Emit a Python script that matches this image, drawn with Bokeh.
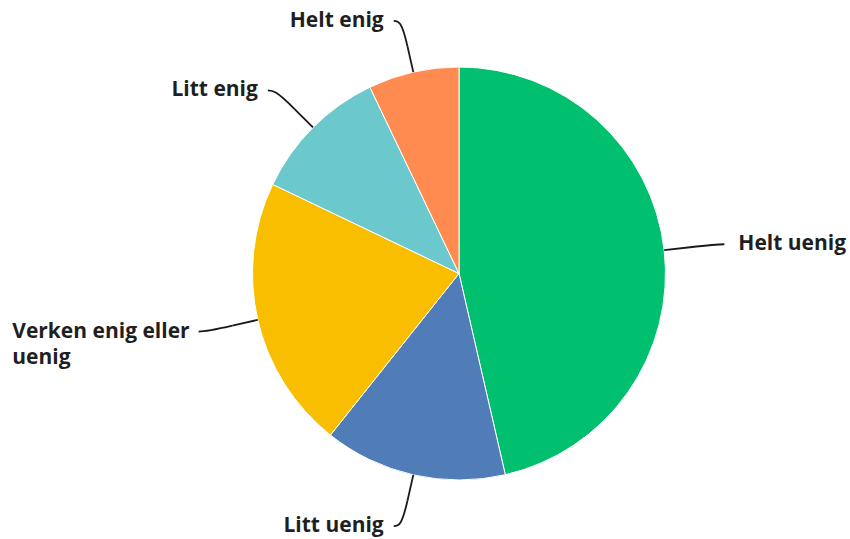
import numpy as np
from bokeh.plotting import figure
from bokeh.models import Range1d, ColumnDataSource
from bokeh.embed import file_html
from bokeh.resources import INLINE
from bokeh.core.properties import value

# ---- data ----
categories = ["Helt uenig", "Litt uenig", "Verken enig eller\nuenig", "Litt enig", "Helt enig"]
shares = [46.4, 14.3, 21.4, 10.8, 7.1]
colors = ["#00bf6f", "#507cb7", "#f9be00", "#6bc8cd", "#ff8b50"]

# ---- layout ----
W, H = 850, 539
CX, CY = 458.5, 266.0   # pie centre (px, y up)
R = 206.5               # pie radius
R_BREAK = R + 26        # where the connector curve meets the straight part
R_LABEL = 259           # label anchor distance
FONT_PX = 21
CHAR_EM = 0.494         # rough average glyph width, used to left-align wrapped labels

p = figure(width=W, height=H, x_range=Range1d(0, W), y_range=Range1d(0, H),
           output_backend="svg", toolbar_location=None,
           x_axis_location=None, y_axis_location=None,
           min_border=0, outline_line_color=None)
p.grid.visible = False

vals = np.array(shares, dtype=float)
frac = vals / vals.sum()
cum = np.concatenate([[0.0], np.cumsum(frac)]) * 2 * np.pi
t0, t1 = cum[:-1], cum[1:]
mid = (t0 + t1) / 2

src = ColumnDataSource(dict(
    start=np.pi / 2 - t0, end=np.pi / 2 - t1, color=colors,
    x=[CX] * len(vals), y=[CY] * len(vals)))
p.wedge(x="x", y="y", radius=R, start_angle="start", end_angle="end",
        direction="clock", fill_color="color", line_color="white", line_width=1,
        source=src)

s, c = np.sin(mid), np.cos(mid)
side = np.where(s > 0, 1.0, -1.0)
ex, ey = CX + R * s, CY + R * c
bx, by = CX + R_BREAK * s, CY + R_BREAK * c
ax, ay = CX + R_LABEL * s + 8 * side, CY + R_LABEL * c

p.bezier(x0=ax, y0=ay, x1=bx, y1=by,
         cx0=ax - 5 * side, cy0=ay, cx1=2 * bx - ex, cy1=2 * by - ey,
         line_color="#1a1a1a", line_width=1.8)
p.segment(x0=bx, y0=by, x1=ex, y1=ey, line_color="#1a1a1a", line_width=1.8)

gap = np.where(side > 0, 14, 10)
tx = ax + gap * side
aligns = []
for i, t in enumerate(categories):
    if side[i] < 0 and "\n" in t:
        # wrapped label on the left: block right-aligned, lines left-aligned
        longest = max(len(l) for l in t.split("\n"))
        tx[i] = tx[i] - longest * CHAR_EM * FONT_PX
        aligns.append("left")
    else:
        aligns.append("left" if side[i] > 0 else "right")

lab = ColumnDataSource(dict(x=tx, y=ay + FONT_PX * 0.62 + 3, text=categories, align=aligns))
p.text(x="x", y="y", text="text", source=lab, text_align="align",
       text_baseline="top", text_font=value("Open Sans"), text_font_style="bold",
       text_font_size=f"{FONT_PX}px", text_color="#1f1f1f", text_line_height=0.95)

open("out.html", "w").write(file_html(p, INLINE))
